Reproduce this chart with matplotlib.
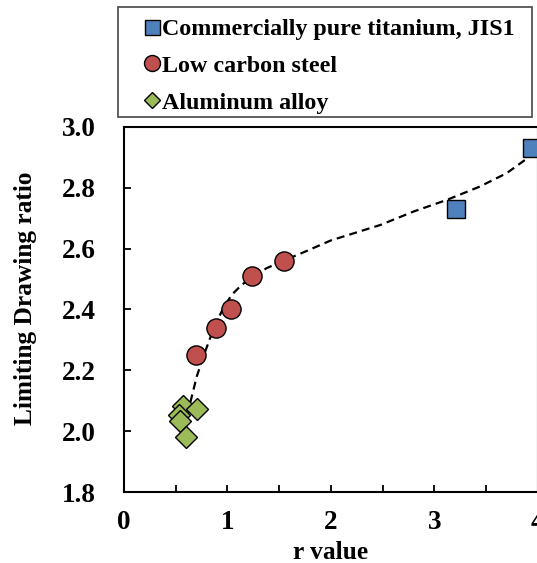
import matplotlib
matplotlib.use("Agg")
import matplotlib.pyplot as plt
from matplotlib.lines import Line2D
from matplotlib.patches import Rectangle
from matplotlib.ticker import MultipleLocator, FixedLocator

plt.rcParams['font.family'] = ['Liberation Serif', 'DejaVu Serif']
plt.rcParams['font.weight'] = 'bold'

# Data
ti_r = [3.21, 3.95]
ti_ldr = [2.73, 2.93]
steel_r = [0.70, 0.89, 1.03, 1.24, 1.55]
steel_ldr = [2.25, 2.34, 2.40, 2.51, 2.56]
al_r = [0.57, 0.71, 0.53, 0.54, 0.60]
al_ldr = [2.083, 2.073, 2.053, 2.033, 1.98]
curve_r = [0.642, 0.655, 0.703, 0.767, 0.832, 0.896, 0.960, 1.041, 1.138, 1.250,
           1.380, 1.540, 1.75, 2.0, 2.48, 2.80, 3.12, 3.44, 3.70, 3.90, 4.0]
curve_ldr = [2.095, 2.113, 2.179, 2.245, 2.305, 2.360, 2.404, 2.448, 2.481, 2.508,
             2.536, 2.560, 2.590, 2.627, 2.678, 2.722, 2.760, 2.804, 2.848, 2.897, 2.94]
labels = ["Commercially pure titanium, JIS1", "Low carbon steel", "Aluminum alloy"]
x_ticks = [0, 1, 2, 3, 4]
y_ticks = [1.8, 2.0, 2.2, 2.4, 2.6, 2.8, 3.0]

blue = '#4F81BD'
red = '#C0504D'
green = '#9BBB59'

W, H = 537, 563
fig = plt.figure(figsize=(W / 100, H / 100), dpi=100)
ax = fig.add_axes([124 / W, 71 / H, (537.6 - 124) / W, 365 / H])

ax.plot(curve_r, curve_ldr, color='black', lw=1.6, dashes=(3.6, 2.3), zorder=2)
ax.plot(ti_r, ti_ldr, ls='none', marker='s', ms=13.3, mfc=blue, mec='black', mew=1.0, zorder=3)
ax.plot(steel_r, steel_ldr, ls='none', marker='o', ms=13.8, mfc=red, mec='black', mew=1.0, zorder=3)
ax.plot(al_r, al_ldr, ls='none', marker='D', ms=11.7, mfc=green, mec='black', mew=1.0, zorder=3)

ax.set_xlim(0, 4)
ax.set_ylim(1.8, 3.0)
ax.xaxis.set_major_locator(FixedLocator(x_ticks))
ax.xaxis.set_minor_locator(MultipleLocator(0.5))
ax.yaxis.set_major_locator(FixedLocator(y_ticks))
ax.set_xticklabels([str(v) for v in x_ticks])
ax.set_yticklabels([f"{v:.1f}" for v in y_ticks])
ax.tick_params(axis='both', which='both', direction='in', length=5, width=1.3, labelsize=19.5)
ax.tick_params(axis='y', pad=20)
ax.tick_params(axis='x', pad=13)
for s in ax.spines.values():
    s.set_linewidth(1.5)
    s.set_clip_on(False)

ax.set_xlabel("r value", fontsize=18.3, fontweight='bold')
ax.set_ylabel("Limiting Drawing ratio", fontsize=18.3, fontweight='bold')
ax.yaxis.set_label_coords(-0.21, 0.531)
ax.xaxis.set_label_coords(0.5, -0.135)

# legend frame (drawn separately so its size matches exactly)
fig.patches.append(Rectangle((118.3 / W, 1 - 116.5 / H), (531.7 - 118.3) / W, 109.5 / H,
                             transform=fig.transFigure, fill=False,
                             edgecolor='#555555', linewidth=1.3))

handles = [
    Line2D([], [], ls='none', marker='s', ms=10.8, mfc=blue, mec='black', mew=1.0),
    Line2D([], [], ls='none', marker='o', ms=11.5, mfc=red, mec='black', mew=1.0),
    Line2D([], [], ls='none', marker='D', ms=8.1, mfc=green, mec='black', mew=1.0),
]
fs = 17.3
fspx = fs / 0.72
bp = 0.47
hl = 2 * (34 - bp * fspx) / fspx
htp = (44 - bp * fspx - hl * fspx) / fspx
leg = fig.legend(handles, labels, loc='upper left',
                 bbox_to_anchor=(118.3 / W, 1 - 116 / H, (531.7 - 118.3) / W, 109 / H),
                 mode='expand', borderaxespad=0, prop={'weight': 'bold', 'size': fs},
                 borderpad=bp, handlelength=hl, handletextpad=htp, labelspacing=0.62,
                 fancybox=False, frameon=False)

fig.savefig("out.png", dpi=100)
